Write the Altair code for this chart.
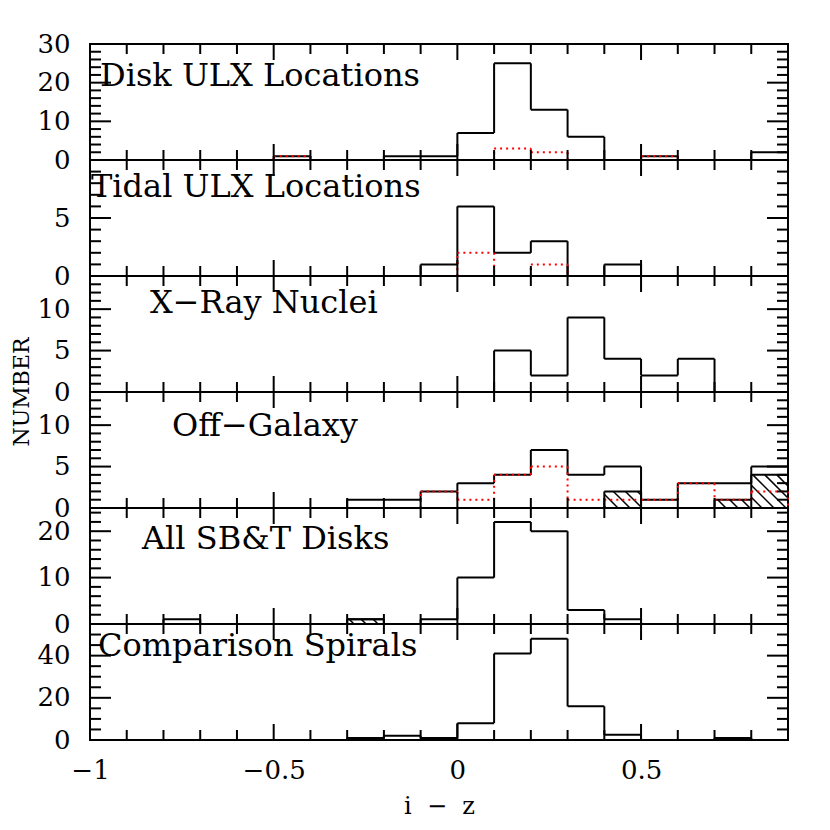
import altair as alt
import pandas as pd

FONT = "DejaVu Serif"
W, H = 698, 116
X0, X1 = -1.0, 0.9

# histogram bins (i - z)
bin_lo = [-1.0, -0.9, -0.8, -0.7, -0.6, -0.5, -0.4, -0.3, -0.2, -0.1,
          0.0, 0.1, 0.2, 0.3, 0.4, 0.5, 0.6, 0.7, 0.8]
bin_hi = [-0.9, -0.8, -0.7, -0.6, -0.5, -0.4, -0.3, -0.2, -0.1, 0.0,
          0.1, 0.2, 0.3, 0.4, 0.5, 0.6, 0.7, 0.8, 0.9]
edges = bin_lo + [0.9]

panel_titles = ["Disk ULX Locations", "Tidal ULX Locations", "X\u2212Ray Nuclei",
                "Off\u2212Galaxy", "All SB&T Disks", "Comparison Spirals"]

# counts per bin
disk_black  = [0, 0, 0, 0, 0, 1, 0, 0, 1, 1, 7, 25, 13, 6, 0, 1, 0, 0, 2]
disk_red    = [0, 0, 0, 0, 0, 1, 0, 0, 0, 0, 0, 3, 2, 0, 0, 1, 0, 0, 0]
tidal_black = [0, 0, 0, 0, 0, 0, 0, 0, 0, 1, 6, 2, 3, 0, 1, 0, 0, 0, 0]
tidal_red   = [0, 0, 0, 0, 0, 0, 0, 0, 0, 0, 2, 0, 1, 0, 0, 0, 0, 0, 0]
xray_black  = [0, 0, 0, 0, 0, 0, 0, 0, 0, 0, 0, 5, 2, 9, 4, 2, 4, 0, 0]
off_black   = [0, 0, 0, 0, 0, 0, 0, 1, 1, 2, 3, 4, 7, 4, 5, 1, 3, 3, 5]
off_red     = [0, 0, 0, 0, 0, 0, 0, 0, 0, 2, 1, 4, 5, 1, 1, 1, 3, 1, 2]
off_hatch   = [0, 0, 0, 0, 0, 0, 0, 0, 0, 0, 0, 0, 0, 0, 2, 0, 0, 1, 4]
sbt_black   = [0, 0, 1, 0, 0, 0, 0, 1, 0, 1, 10, 22, 20, 3, 1, 0, 0, 0, 0]
sbt_hatch   = [0, 0, 0, 0, 0, 0, 0, 1, 0, 0, 0, 0, 0, 0, 0, 0, 0, 0, 0]
comp_black  = [0, 0, 0, 0, 0, 0, 0, 1, 2, 1, 8, 41, 48, 16, 2.5, 0, 0, 1, 0]

black_series = [disk_black, tidal_black, xray_black, off_black, sbt_black, comp_black]
red_series = [disk_red, tidal_red, None, off_red, None, None]
hatch_series = [None, None, None, off_hatch, sbt_hatch, None]

y_max = [30, 10, 14, 14, 25, 55]
y_labels = [[0, 10, 20, 30], [0, 5], [0, 5, 10], [0, 5, 10], [0, 10, 20], [0, 20, 40]]
y_major = [[0, 10, 20, 30], [0, 5, 10], [0, 5, 10], [0, 5, 10], [0, 10, 20], [0, 20, 40]]
y_minor = [[2, 4, 6, 8, 12, 14, 16, 18, 22, 24, 26, 28],
           [1, 2, 3, 4, 6, 7, 8, 9],
           [1, 2, 3, 4, 6, 7, 8, 9, 11, 12, 13],
           [1, 2, 3, 4, 6, 7, 8, 9, 11, 12, 13],
           [2, 4, 6, 8, 12, 14, 16, 18, 22, 24],
           [5, 10, 15, 25, 30, 35, 45, 50]]
x_major = [-1.0, -0.5, 0.0, 0.5]
x_minor = [-0.9, -0.8, -0.7, -0.6, -0.4, -0.3, -0.2, -0.1,
           0.1, 0.2, 0.3, 0.4, 0.6, 0.7, 0.8]
x_label_values = [-1.0, -0.5, 0.0, 0.5]

title_x = [10, 1, 60, 82, 52, 8]
title_y = [42, 37, 37, 44, 41, 32]


def step_parts(vals):
    hor = [{"x": bin_lo[i], "x2": bin_hi[i], "y": vals[i]} for i in range(len(vals)) if vals[i] > 0]
    padded = [0] + list(vals) + [0]
    ver = []
    for j, e in enumerate(edges):
        a, b = padded[j], padded[j + 1]
        if a != b:
            ver.append({"x": e, "y": a, "y2": b})
    return pd.DataFrame(hor), pd.DataFrame(ver)


def hatch_parts(vals, ymax, spacing=12.0):
    pxx = W / (X1 - X0)
    pxy = H / ymax
    segs = []
    for i, v in enumerate(vals):
        if v <= 0:
            continue
        x0 = (bin_lo[i] - X0) * pxx
        x1 = (bin_hi[i] - X0) * pxx
        yt = v * pxy
        k = int((x0) // spacing)
        while k * spacing <= x1 + yt + spacing:
            c = k * spacing
            xs = max(x0, c - yt)
            xe = min(x1, c)
            if xe - xs > 0.5:
                segs.append({"x": xs / pxx + X0, "y": (c - xs) / pxy,
                             "x2": xe / pxx + X0, "y2": (c - xe) / pxy})
            k += 1
    return pd.DataFrame(segs)


def make_panel(i):
    last = i == 5
    ymax = y_max[i]
    xscale = alt.Scale(domain=[X0, X1], nice=False, zero=False)
    yscale = alt.Scale(domain=[0, ymax], nice=False, zero=True)
    if last:
        xaxis = alt.Axis(values=x_label_values, format="~g", title="i\u00a0\u00a0\u2212\u00a0\u00a0z",
                         ticks=False, tickSize=0, domain=False, grid=False,
                         labelFlush=False, labelFont=FONT, labelFontSize=26,
                         labelColor="black", labelPadding=17, labelOverlap=False,
                         titleFont=FONT, titleFontSize=24, titleFontWeight="normal",
                         titleColor="black", titlePadding=11)
    else:
        xaxis = None
    yaxis = alt.Axis(values=y_labels[i], format="d", title=None, ticks=False, tickSize=0,
                     domain=False, grid=False, labelFont=FONT, labelFontSize=26,
                     labelColor="black", labelPadding=20, labelOverlap=False)

    def X(f):
        return alt.X(f, type="quantitative", scale=xscale, axis=xaxis)

    def Y(f):
        return alt.Y(f, type="quantitative", scale=yscale, axis=yaxis)

    layers = []

    # hatched sub-histogram
    if hatch_series[i] is not None:
        hd = hatch_parts(hatch_series[i], ymax)
        layers.append(alt.Chart(hd).mark_rule(color="black", strokeWidth=1.5).encode(
            x=X("x"), y=Y("y"), x2="x2", y2="y2"))
        hh, hv = step_parts(hatch_series[i])
        layers.append(alt.Chart(hh).mark_rule(color="black", strokeWidth=2).encode(
            x=X("x"), x2="x2", y=Y("y")))
        layers.append(alt.Chart(hv).mark_rule(color="black", strokeWidth=2).encode(
            x=X("x"), y=Y("y"), y2="y2"))

    bh, bv = step_parts(black_series[i])
    layers.append(alt.Chart(bh).mark_rule(color="black", strokeWidth=2).encode(
        x=X("x"), x2="x2", y=Y("y")))
    layers.append(alt.Chart(bv).mark_rule(color="black", strokeWidth=2).encode(
        x=X("x"), y=Y("y"), y2="y2"))

    if red_series[i] is not None:
        rh, rv = step_parts(red_series[i])
        layers.append(alt.Chart(rh).mark_rule(color="#ff0000", strokeWidth=2, strokeDash=[2, 4]).encode(
            x=X("x"), x2="x2", y=Y("y")))
        layers.append(alt.Chart(rv).mark_rule(color="#ff0000", strokeWidth=2, strokeDash=[2, 4]).encode(
            x=X("x"), y=Y("y"), y2="y2"))

    # inward tick marks
    xmaj = pd.DataFrame({"x": x_major})
    xmin = pd.DataFrame({"x": x_minor})
    ymaj = pd.DataFrame({"y": y_major[i]})
    ymin = pd.DataFrame({"y": y_minor[i]})
    tk = dict(color="black", strokeWidth=2)
    for df, ln in ((xmaj, 16), (xmin, 10)):
        layers.append(alt.Chart(df).mark_rule(**tk).encode(
            x=X("x"), y=alt.value(H), y2=alt.value(H - ln)))
        layers.append(alt.Chart(df).mark_rule(**tk).encode(
            x=X("x"), y=alt.value(0), y2=alt.value(ln)))
    for df, ln in ((ymaj, 21), (ymin, 11)):
        layers.append(alt.Chart(df).mark_rule(**tk).encode(
            y=Y("y"), x=alt.value(0), x2=alt.value(ln)))
        layers.append(alt.Chart(df).mark_rule(**tk).encode(
            y=Y("y"), x=alt.value(W), x2=alt.value(W - ln)))

    # panel label
    layers.append(alt.Chart(pd.DataFrame({"t": [panel_titles[i]]})).mark_text(
        align="left", baseline="alphabetic", font=FONT, fontSize=32, color="black").encode(
        text="t:N", x=alt.value(title_x[i]), y=alt.value(title_y[i])))

    if i == 2:
        layers.append(alt.Chart(pd.DataFrame({"t": ["NUMBER"]})).mark_text(
            align="center", baseline="middle", angle=270, font=FONT, fontSize=22,
            color="black").encode(text="t:N", x=alt.value(-68), y=alt.value(H)))

    return alt.layer(*layers).properties(width=W, height=H)


chart = alt.vconcat(*[make_panel(i) for i in range(6)], spacing=0, bounds="flush").properties(
    padding={"left": 2, "top": 22, "right": 10, "bottom": 5},
    background="white",
).configure_view(stroke="black", strokeWidth=2)

chart.save("out.html", embed_options={"renderer": "svg", "actions": False})
